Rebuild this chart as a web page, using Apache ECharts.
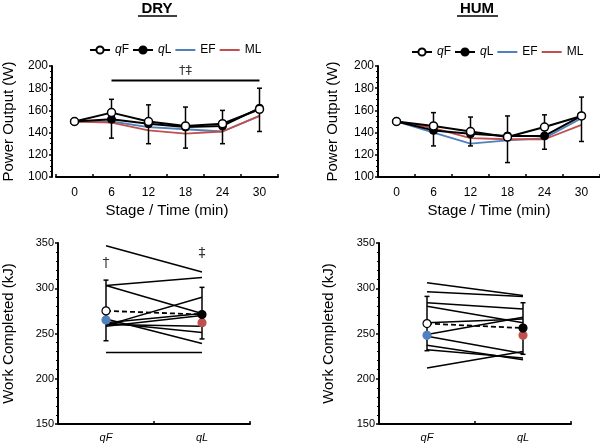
<!DOCTYPE html>
<html>
<head>
<meta charset="utf-8">
<script src="https://cdn.jsdelivr.net/npm/echarts@6/dist/echarts.min.js"></script>
<style>
  html, body { margin: 0; padding: 0; background: #fff; }
  #chart { width: 600px; height: 445px; }
</style>
</head>
<body>
<div id="chart"></div>
<script>
// stage axis (top panels)
const stages = ['0', '6', '12', '18', '24', '30'];

// DRY power output (W)
const dryQF = [150, 158, 150, 146, 148, 161];
const dryQL = [150, 152, 148, 145, 146, 162];
const dryEF = [150, 150, 145, 143, 141, 155];
const dryML = [150, 149, 142, 139, 141, 155];
const dryErrLow = [null, 135, 130, 126, 130, 141];
const dryErrHigh = [null, 170, 165, 163, 160, 180];

// HUM power output (W)
const humQF = [150, 146, 141, 136, 145, 155];
const humQL = [150, 142, 139, 137, 137, 155];
const humEF = [150, 140, 130, 133, 135, 153];
const humML = [150, 144, 135, 134, 134, 147];
const humErrLow = [null, 128, 128, 113, 125, 132];
const humErrHigh = [null, 158, 154, 155, 156, 172];

// work completed (kJ), individual subjects qF -> qL
const pacing = ['qF', 'qL'];
const dryWorkQF = [347, 303, 303, 259, 262, 258, 260, 262, 266, 229];
const dryWorkQL = [318, 312, 272, 290, 272, 270, 258, 251, 239, 229];
const humWorkQF = [306, 296, 284, 280, 262, 249, 247, 237, 232, 212];
const humWorkQL = [292, 291, 277, 262, 266, 268, 228, 221, 223, 230];

// group means and error bars (qF, qL)
const dryWorkMean = [275, 271];
const dryWorkEF = 265;
const dryWorkML = 262;
const dryWorkErrLow = [242, 244];
const dryWorkErrHigh = [309, 301];
const humWorkMean = [261, 256];
const humWorkEF = 248;
const humWorkML = 248;
const humWorkErrLow = [231, 227];
const humWorkErrHigh = [291, 284];

const FONT = 'Liberation Sans, Arial, sans-serif';
const BLUE = '#4f81bd';
const RED = '#c0504d';

const chart = echarts.init(document.getElementById('chart'));

function errorBars(idx, lows, highs) {
  return {
    type: 'custom',
    xAxisIndex: idx,
    yAxisIndex: idx,
    z: 3,
    silent: true,
    encode: { x: 0, y: [1, 2] },
    data: lows.map((l, i) => [i, l, highs[i]]).filter(d => d[1] != null),
    renderItem: function (params, api) {
      const x = api.value(0);
      const lo = api.coord([x, api.value(1)]);
      const hi = api.coord([x, api.value(2)]);
      const style = { stroke: '#000', lineWidth: 1.5 };
      const cap = 2.5;
      return {
        type: 'group',
        children: [
          { type: 'line', shape: { x1: lo[0], y1: lo[1], x2: hi[0], y2: hi[1] }, style: style },
          { type: 'line', shape: { x1: lo[0] - cap, y1: lo[1], x2: lo[0] + cap, y2: lo[1] }, style: style },
          { type: 'line', shape: { x1: hi[0] - cap, y1: hi[1], x2: hi[0] + cap, y2: hi[1] }, style: style }
        ]
      };
    }
  };
}

function powerSeries(idx, qf, ql, ef, ml, lo, hi) {
  // EF / ML have no markers; transparent item colour keeps the legend icon a plain line
  return [
    { name: 'EF', type: 'line', xAxisIndex: idx, yAxisIndex: idx, data: ef, symbol: 'none', z: 2,
      lineStyle: { color: BLUE, width: 1.8 }, itemStyle: { color: 'rgba(0,0,0,0)', borderWidth: 0 } },
    { name: 'ML', type: 'line', xAxisIndex: idx, yAxisIndex: idx, data: ml, symbol: 'none', z: 2,
      lineStyle: { color: RED, width: 1.8 }, itemStyle: { color: 'rgba(0,0,0,0)', borderWidth: 0 } },
    errorBars(idx, lo, hi),
    { name: 'qL', type: 'line', xAxisIndex: idx, yAxisIndex: idx, data: ql, symbol: 'circle', symbolSize: 8, z: 4,
      lineStyle: { color: '#000', width: 2 }, itemStyle: { color: '#000', borderColor: '#000', borderWidth: 1 } },
    { name: 'qF', type: 'line', xAxisIndex: idx, yAxisIndex: idx, data: qf, symbol: 'circle', symbolSize: 8, z: 5,
      lineStyle: { color: '#000', width: 2 }, itemStyle: { color: '#fff', borderColor: '#000', borderWidth: 1.5 } }
  ];
}

function dot(idx, x, y, fill, stroke, z) {
  return { type: 'scatter', xAxisIndex: idx, yAxisIndex: idx, symbolSize: 8, z: z, silent: true,
    data: [[x, y]], itemStyle: { color: fill, borderColor: stroke, borderWidth: 1.2, opacity: 1 } };
}

function workSeries(idx, aArr, bArr, mean, ef, ml, lo, hi) {
  const out = aArr.map((a, i) => ({
    type: 'line', xAxisIndex: idx, yAxisIndex: idx, data: [a, bArr[i]], symbol: 'none', silent: true, z: 2,
    lineStyle: { color: '#000', width: 1.5 }
  }));
  out.push(errorBars(idx, lo, hi));
  out.push({ type: 'line', xAxisIndex: idx, yAxisIndex: idx, data: mean, symbol: 'none', silent: true, z: 4,
    lineStyle: { color: '#000', width: 1.8, type: [5, 3] } });
  out.push(dot(idx, 0, ef, BLUE, BLUE, 5));
  out.push(dot(idx, 1, ml, RED, RED, 5));
  out.push(dot(idx, 0, mean[0], '#fff', '#000', 6));
  out.push(dot(idx, 1, mean[1], '#000', '#000', 6));
  return out;
}

function markText(idx, x, y, text, size) {
  return {
    type: 'scatter', xAxisIndex: idx, yAxisIndex: idx, silent: true, z: 6,
    symbolSize: 1, itemStyle: { color: 'rgba(0,0,0,0)' },
    data: [[x, y]],
    label: { show: true, position: 'inside', formatter: text, color: '#000',
      fontFamily: 'DejaVu Sans, sans-serif', fontSize: size }
  };
}

const axisLine = { show: true, lineStyle: { color: '#000', width: 2 } };
const tickLabel = { color: '#000', fontFamily: FONT, fontSize: 12 };

function stageAxis(idx) {
  return {
    type: 'category', gridIndex: idx, data: stages, boundaryGap: true,
    axisLine: axisLine,
    axisTick: { show: true, inside: true, length: 3, lineStyle: { color: '#000', width: 1.5 } },
    axisLabel: Object.assign({ margin: 10 }, tickLabel),
    name: 'Stage / Time (min)', nameLocation: 'middle', nameGap: 26,
    nameTextStyle: { color: '#000', fontFamily: FONT, fontSize: 15 },
    splitLine: { show: false }
  };
}

function powerAxis(idx, offset, gap) {
  return {
    type: 'value', gridIndex: idx, min: 100, max: 200, interval: 20, offset: offset,
    axisLine: axisLine,
    axisTick: { show: true, length: 3, lineStyle: { color: '#000', width: 1.5 } },
    minorTick: { show: true, splitNumber: 4, length: 2, lineStyle: { color: '#000', width: 1 } },
    axisLabel: Object.assign({ margin: 4 }, tickLabel),
    name: 'Power Output (W)', nameLocation: 'middle', nameGap: gap, nameRotate: 90,
    nameTextStyle: { color: '#000', fontFamily: FONT, fontSize: 15 },
    splitLine: { show: false }
  };
}

function pacingAxis(idx) {
  return {
    type: 'category', gridIndex: idx, data: pacing, boundaryGap: true,
    axisLine: axisLine,
    axisTick: { show: true, inside: true, length: 3, lineStyle: { color: '#000', width: 1.5 } },
    axisLabel: { color: '#000', fontFamily: FONT, fontSize: 11, fontStyle: 'italic', margin: 8 },
    splitLine: { show: false }
  };
}

function workAxis(idx, gap) {
  return {
    type: 'value', gridIndex: idx, min: 150, max: 350, interval: 50,
    axisLine: axisLine,
    axisTick: { show: true, length: 3, lineStyle: { color: '#000', width: 1.5 } },
    minorTick: { show: true, splitNumber: 5, length: 2, lineStyle: { color: '#000', width: 1 } },
    axisLabel: { color: '#000', fontFamily: FONT, fontSize: 11, margin: 4 },
    name: 'Work Completed (kJ)', nameLocation: 'middle', nameGap: gap, nameRotate: 90,
    nameTextStyle: { color: '#000', fontFamily: FONT, fontSize: 15 },
    splitLine: { show: false }
  };
}

const legendText = {
  color: '#000', fontFamily: FONT, fontSize: 12,
  rich: { i: { fontStyle: 'italic', fontFamily: FONT, fontSize: 12, color: '#000' } }
};
function legendFmt(name) {
  return name[0] === 'q' ? '{i|q}' + name.slice(1) : name;
}

const series = []
  .concat(powerSeries(0, dryQF, dryQL, dryEF, dryML, dryErrLow, dryErrHigh))
  .concat([{
    type: 'line', xAxisIndex: 0, yAxisIndex: 0, data: [[1, 187], [5, 187]], symbol: 'none', silent: true,
    lineStyle: { color: '#000', width: 2 }
  }, markText(0, 3, 196, '†‡', 13)])
  .concat(powerSeries(1, humQF, humQL, humEF, humML, humErrLow, humErrHigh))
  .concat(workSeries(2, dryWorkQF, dryWorkQL, dryWorkMean, dryWorkEF, dryWorkML, dryWorkErrLow, dryWorkErrHigh))
  .concat([markText(2, 0, 328, '†', 14), markText(2, 1, 339, '‡', 14)])
  .concat(workSeries(3, humWorkQF, humWorkQL, humWorkMean, humWorkEF, humWorkML, humWorkErrLow, humWorkErrHigh));

const option = {
  animation: false,
  backgroundColor: '#fff',
  grid: [
    { left: 56, top: 66, width: 222, height: 111, containLabel: false, outerBoundsMode: 'none' },
    { left: 378, top: 66, width: 222, height: 111, containLabel: false, outerBoundsMode: 'none' },
    { left: 58, top: 243, width: 192, height: 181, containLabel: false, outerBoundsMode: 'none' },
    { left: 379, top: 243, width: 192, height: 181, containLabel: false, outerBoundsMode: 'none' }
  ],
  legend: [
    { left: 84, top: 39, data: ['qF', 'qL', 'EF', 'ML'], itemWidth: 20, itemHeight: 9, itemGap: 3,
      textStyle: legendText, formatter: legendFmt, selectedMode: false },
    { left: 406, top: 41, data: ['qF', 'qL', 'EF', 'ML'], itemWidth: 20, itemHeight: 9, itemGap: 3,
      textStyle: legendText, formatter: legendFmt, selectedMode: false }
  ],
  xAxis: [stageAxis(0), stageAxis(1), pacingAxis(2), pacingAxis(3)],
  yAxis: [powerAxis(0, 4, 36), powerAxis(1, 0, 38), workAxis(2, 42), workAxis(3, 43)],
  graphic: [
    { type: 'text', x: 157, y: 9, style: { text: 'DRY', align: 'center', verticalAlign: 'middle',
      fontFamily: FONT, fontSize: 15, fontWeight: 'bold', fill: '#000' } },
    { type: 'line', shape: { x1: 138, y1: 16, x2: 177, y2: 16 }, style: { stroke: '#000', lineWidth: 1.5 } },
    { type: 'text', x: 477, y: 9, style: { text: 'HUM', align: 'center', verticalAlign: 'middle',
      fontFamily: FONT, fontSize: 15, fontWeight: 'bold', fill: '#000' } },
    { type: 'line', shape: { x1: 457, y1: 16, x2: 498, y2: 16 }, style: { stroke: '#000', lineWidth: 1.5 } }
  ],
  series: series
};

chart.setOption(option);
</script>
</body>
</html>
